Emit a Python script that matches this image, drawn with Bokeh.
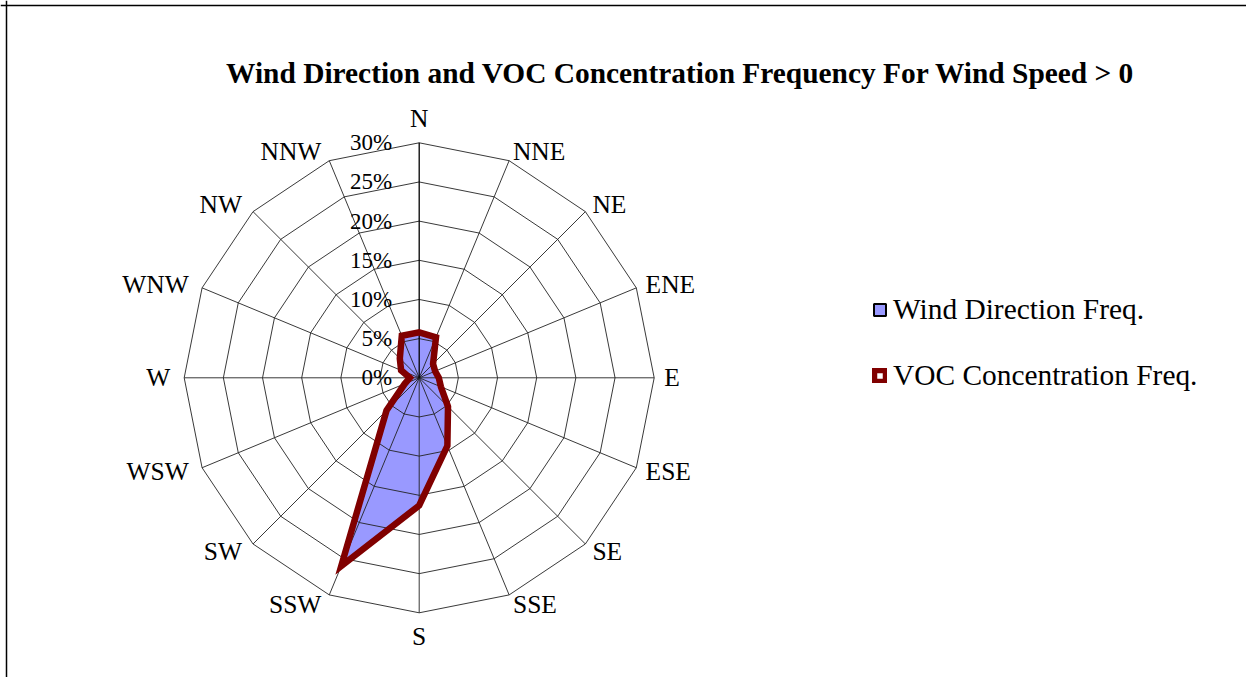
import numpy as np
from bokeh.plotting import figure
from bokeh.models import Range1d, Label, Span, Legend, LegendItem, ColumnDataSource
from bokeh.core.properties import value
from bokeh.embed import file_html
from bokeh.resources import INLINE

# ---------------- data ----------------
directions = ["N", "NNE", "NE", "ENE", "E", "ESE", "SE", "SSE",
              "S", "SSW", "SW", "WSW", "W", "WNW", "NW", "NNW"]
wind_freq = [5.8, 5.6, 2.5, 2.2, 2.5, 3.0, 5.2, 9.4,
             16.3, 26.0, 5.9, 2.0, 1.2, 2.5, 3.5, 5.8]
voc_freq = [5.8, 5.6, 2.5, 2.2, 2.5, 3.0, 5.2, 9.4,
            16.3, 26.0, 5.9, 2.0, 1.2, 2.5, 3.5, 5.8]
ring_levels = [0, 5, 10, 15, 20, 25, 30]
tick_labels = ["0%", "5%", "10%", "15%", "20%", "25%", "30%"]
title_text = "Wind Direction and VOC Concentration Frequency For Wind Speed > 0"

# ---------------- layout ----------------
W, H = 1246, 677
CX, CY = 418.7, 377.3          # radar centre in canvas px
RMAX = max(ring_levels)
S = 235.0 / RMAX               # px per percent
FONT = "Liberation Serif"

p = figure(width=W, height=H, output_backend="svg", toolbar_location=None,
           x_axis_type=None, y_axis_type=None, min_border=0,
           x_range=Range1d(-CX / S, (W - CX) / S),
           y_range=Range1d(-(H - CY) / S, CY / S))
p.outline_line_color = None
p.background_fill_color = "white"
p.border_fill_color = "white"

n = len(directions)
ang = np.deg2rad(np.arange(n) * 360.0 / n)
sx, sy = np.sin(ang), np.cos(ang)

def closed(vals):
    v = np.asarray(vals, dtype=float)
    return list(v * sx), list(v * sy)

# wind direction area
wx, wy = closed(wind_freq)
blue = p.patch(wx, wy, fill_color="#9999FF", line_color="black", line_width=2)

# grid rings and spokes
ring_xs, ring_ys = [], []
for lv in ring_levels[1:]:
    rx = list(lv * sx) + [lv * sx[0]]
    ry = list(lv * sy) + [lv * sy[0]]
    ring_xs.append(rx)
    ring_ys.append(ry)
p.multi_line(ring_xs, ring_ys, line_color="#222222", line_width=0.9)
spoke_xs = [[0, RMAX * a] for a in sx[1:]]
spoke_ys = [[0, RMAX * b] for b in sy[1:]]
p.multi_line(spoke_xs, spoke_ys, line_color="#222222", line_width=0.9)
# value axis (N spoke)
p.line([0, 0], [0, RMAX], line_color="black", line_width=1.3)

# VOC concentration line
vx, vy = closed(voc_freq)
red = p.patch(vx, vy, fill_alpha=0, line_color="#800000", line_width=6.5,
              line_join="miter")

# value tick labels
tick_src = ColumnDataSource(dict(x=[-27.0 / S] * len(ring_levels), y=ring_levels, t=tick_labels))
p.text("x", "y", text="t", source=tick_src, text_font=value(FONT), text_font_size="23px",
       text_align="right", text_baseline="middle", text_color="black")

# category labels
R = RMAX
groups = {"left": dict(x=[], y=[], t=[]), "right": dict(x=[], y=[], t=[]), "center": dict(x=[], y=[], t=[])}
for name, a, b in zip(directions, sx, sy):
    if abs(a) < 0.1:
        gap = 24.0 / S
        groups["center"]["x"].append((R + gap) * a)
        groups["center"]["y"].append((R + gap) * b)
        groups["center"]["t"].append(name)
    elif a > 0:
        gap = 10.0 / S
        groups["left"]["x"].append((R + gap) * a)
        groups["left"]["y"].append((R + gap) * b)
        groups["left"]["t"].append(name)
    else:
        gap = 10.0 / S
        groups["right"]["x"].append((R + gap) * a - 4.0 / S)
        groups["right"]["y"].append((R + gap) * b)
        groups["right"]["t"].append(name)
for align, d in groups.items():
    p.text("x", "y", text="t", source=ColumnDataSource(d), text_font=value(FONT),
           text_font_size="25.5px", text_align=align, text_baseline="middle", text_color="black")

# title
p.add_layout(Label(x=680, y=H - 72, x_units="screen", y_units="screen", text=title_text,
                   text_font=FONT, text_font_style="bold", text_font_size="29.4px",
                   text_align="center", text_baseline="middle", text_color="black"))

# chart border (left and top visible)
p.add_layout(Span(location=(6 - CX) / S, dimension="height", line_color="black", line_width=1.5))
p.add_layout(Span(location=(CY - 5) / S, dimension="width", line_color="black", line_width=1.5))

# legend
legend = Legend(items=[LegendItem(label="Wind Direction Freq.", renderers=[blue]),
                       LegendItem(label="VOC Concentration Freq.", renderers=[red])],
                location=(872, H - 392), orientation="vertical",
                label_text_font=FONT, label_text_font_size="29.4px", label_text_color="black",
                glyph_width=15, glyph_height=15, label_standoff=6,
                spacing=33, padding=0, margin=0,
                border_line_color=None, background_fill_alpha=0)
p.add_layout(legend)

open("out.html", "w").write(file_html(p, INLINE))
